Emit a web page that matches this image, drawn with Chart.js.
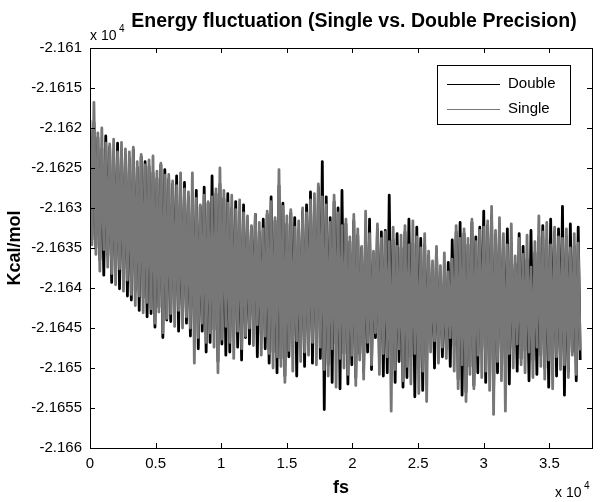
<!DOCTYPE html>
<html>
<head>
<meta charset="utf-8">
<script src="https://cdn.jsdelivr.net/npm/chart.js@4/dist/chart.umd.min.js"></script>
<style>
html,body{margin:0;padding:0;background:#fff;}
#wrap{width:600px;height:502px;position:relative;}
</style>
</head>
<body>
<div id="wrap"><canvas id="c" width="600" height="502"></canvas></div>
<script>
// ---- data (energies in kcal/mol, sampled every 150 fs) ----
const sampleStepFs = 150;
const seriesNames = ["Double", "Single"];
const doubleValues = [
-21620.2,-21633.9,-21619.3,-21634.9,-21621.2,-21636.5,-21622.6,-21638.4,-21621.0,-21636.0,
-21622.4,-21639.3,-21623.6,-21637.8,-21621.9,-21640.1,-21622.8,-21638.9,-21623.4,-21641.0,
-21623.8,-21641.5,-21622.7,-21640.4,-21624.9,-21642.8,-21623.6,-21641.2,-21624.2,-21643.6,
-21624.8,-21643.2,-21625.6,-21644.9,-21626.3,-21642.4,-21624.6,-21646.2,-21625.2,-21644.0,
-21626.4,-21644.2,-21627.0,-21642.6,-21626.0,-21645.4,-21628.0,-21643.8,-21626.8,-21644.4,
-21628.6,-21646.0,-21629.0,-21644.6,-21627.8,-21647.6,-21629.8,-21645.4,-21627.4,-21648.0,
-21629.4,-21646.8,-21626.0,-21645.2,-21628.2,-21649.2,-21627.0,-21647.0,-21628.8,-21648.4,
-21628.2,-21648.0,-21630.0,-21645.8,-21629.2,-21647.4,-21630.8,-21649.0,-21629.6,-21646.2,
-21631.6,-21647.0,-21632.4,-21644.2,-21630.8,-21648.6,-21633.0,-21645.8,-21631.4,-21647.6,
-21630.8,-21649.4,-21628.6,-21648.0,-21631.6,-21650.6,-21627.2,-21648.8,-21629.4,-21651.0,
-21632.0,-21648.6,-21630.6,-21646.0,-21631.2,-21651.0,-21632.8,-21647.4,-21630.4,-21649.8,
-21629.6,-21647.2,-21628.0,-21649.4,-21630.2,-21646.4,-21627.4,-21648.8,-21624.2,-21655.2,
-21628.6,-21649.6,-21631.2,-21651.8,-21629.2,-21647.0,-21630.0,-21652.6,-21627.8,-21648.2,
-21632.0,-21652.0,-21634.2,-21649.6,-21631.6,-21651.2,-21633.4,-21648.2,-21635.0,-21650.4,
-21634.0,-21648.0,-21631.4,-21650.2,-21635.8,-21646.2,-21632.6,-21649.0,-21633.0,-21651.0,
-21632.8,-21650.6,-21628.4,-21647.8,-21634.0,-21651.8,-21633.2,-21649.2,-21635.0,-21652.4,
-21633.0,-21651.2,-21631.4,-21648.6,-21634.4,-21653.6,-21632.4,-21650.0,-21633.8,-21652.8,
-21634.6,-21649.0,-21636.0,-21646.4,-21637.8,-21650.0,-21635.2,-21647.0,-21638.4,-21648.6,
-21639.2,-21647.6,-21636.8,-21649.8,-21634.0,-21647.2,-21633.0,-21651.4,-21631.8,-21653.4,
-21633.2,-21653.0,-21634.6,-21649.8,-21631.8,-21652.2,-21633.6,-21650.6,-21632.4,-21647.6,
-21630.4,-21651.8,-21632.2,-21649.0,-21631.0,-21653.2,-21633.4,-21650.6,-21632.0,-21648.4,
-21635.0,-21649.8,-21632.6,-21652.0,-21634.4,-21647.6,-21637.0,-21650.4,-21633.2,-21648.8,
-21634.8,-21647.8,-21636.4,-21651.6,-21632.8,-21649.0,-21635.6,-21650.8,-21633.6,-21648.4,
-21632.2,-21650.0,-21634.0,-21652.4,-21631.4,-21648.8,-21633.0,-21651.0,-21632.6,-21649.6,
-21629.8,-21653.4,-21633.6,-21650.4,-21632.0,-21648.0,-21634.8,-21651.6,-21632.4,-21649.0
];
const singleValues = [
-21619.0,-21634.6,-21616.8,-21635.8,-21620.6,-21637.9,-21620.0,-21635.2,-21621.9,-21637.4,
-21622.0,-21638.2,-21621.4,-21639.6,-21623.0,-21637.6,-21621.8,-21640.4,-21622.6,-21639.0,
-21623.0,-21640.8,-21622.4,-21642.2,-21624.2,-21641.0,-21623.3,-21643.1,-21624.6,-21641.8,
-21624.0,-21642.6,-21623.5,-21644.4,-21625.4,-21643.0,-21624.4,-21645.6,-21625.9,-21643.8,
-21625.8,-21643.2,-21626.6,-21644.8,-21627.2,-21642.8,-21625.6,-21645.0,-21627.6,-21643.6,
-21628.0,-21645.0,-21625.6,-21649.4,-21628.8,-21646.2,-21629.6,-21644.4,-21628.4,-21646.8,
-21629.2,-21645.6,-21628.6,-21647.4,-21627.6,-21650.6,-21625.0,-21646.4,-21627.8,-21644.8,
-21629.4,-21646.8,-21628.4,-21648.8,-21630.2,-21645.4,-21629.0,-21647.6,-21630.6,-21646.0,
-21631.0,-21645.0,-21632.2,-21647.2,-21630.8,-21644.6,-21631.8,-21648.4,-21632.6,-21646.0,
-21630.4,-21648.2,-21629.2,-21650.0,-21631.2,-21648.6,-21625.2,-21649.8,-21629.8,-21651.8,
-21631.0,-21647.8,-21630.2,-21650.4,-21632.4,-21646.6,-21631.6,-21649.2,-21630.0,-21648.0,
-21630.6,-21648.4,-21629.0,-21646.8,-21628.2,-21649.6,-21627.0,-21647.4,-21628.6,-21650.2,
-21629.6,-21651.0,-21631.8,-21647.6,-21628.4,-21652.4,-21630.6,-21648.8,-21632.2,-21650.0,
-21631.4,-21650.8,-21633.6,-21648.4,-21630.8,-21652.2,-21632.6,-21649.0,-21634.8,-21651.4,
-21630.4,-21646.8,-21633.2,-21649.6,-21635.4,-21645.6,-21632.0,-21650.8,-21633.8,-21648.2,
-21633.0,-21648.6,-21634.2,-21655.4,-21632.4,-21650.2,-21634.8,-21647.6,-21633.4,-21651.6,
-21632.2,-21649.8,-21634.6,-21652.0,-21631.6,-21648.2,-21633.6,-21653.2,-21635.0,-21650.4,
-21633.2,-21654.2,-21635.4,-21648.0,-21636.6,-21646.6,-21634.8,-21649.4,-21637.2,-21647.4,
-21635.6,-21648.8,-21638.0,-21646.2,-21636.4,-21650.4,-21632.2,-21652.6,-21633.8,-21649.6,
-21632.6,-21654.2,-21633.8,-21650.8,-21631.4,-21652.6,-21634.2,-21648.4,-21632.8,-21651.2,
-21632.4,-21650.4,-21631.6,-21652.8,-21629.8,-21655.8,-21632.8,-21649.2,-21631.2,-21651.6,
-21633.2,-21655.4,-21634.6,-21648.2,-21632.0,-21650.0,-21636.0,-21647.0,-21633.8,-21649.6,
-21635.8,-21650.6,-21633.4,-21648.0,-21637.4,-21651.2,-21634.2,-21647.4,-21631.0,-21649.8,
-21633.0,-21651.4,-21631.8,-21649.0,-21634.6,-21652.6,-21632.4,-21648.6,-21633.6,-21650.2,
-21633.8,-21649.6,-21632.6,-21651.2,-21635.0,-21648.4,-21633.2,-21650.8,-21634.4,-21647.8
];
const yTickValues = [-21660,-21655,-21650,-21645,-21640,-21635,-21630,-21625,-21620,-21615,-21610];
const xTickValues = [0,5000,10000,15000,20000,25000,30000,35000];
const chartTitle = "Energy fluctuation (Single vs. Double Precision)";
const xTitle = "fs";
const yTitle = "Kcal/mol";

// ---- build points ----
function toPoints(vals){ return vals.map((v,i)=>({x:i*sampleStepFs, y:v})); }
const seriesColors = {Double:"#000000", Single:"#777777"};

const FONT = "Arial, 'Liberation Sans', Helvetica, sans-serif";
function fmt(v){ return String(parseFloat((v/1e4).toFixed(5))); }

const decorPlugin = {
  id:'decor',
  afterDraw(chart){
    const ctx = chart.ctx, a = chart.chartArea;
    const xs = chart.scales.x, ys = chart.scales.y;
    ctx.save();
    ctx.strokeStyle = '#000'; ctx.lineWidth = 1;
    ctx.strokeRect(Math.round(a.left)+0.5, Math.round(a.top)+0.5, Math.round(a.right-a.left), Math.round(a.bottom-a.top));
    ctx.beginPath();
    xTickValues.forEach(v=>{
      const p = Math.round(xs.getPixelForValue(v))+0.5;
      ctx.moveTo(p, a.bottom); ctx.lineTo(p, a.bottom-5);
      ctx.moveTo(p, a.top); ctx.lineTo(p, a.top+5);
    });
    yTickValues.forEach(v=>{
      const p = Math.round(ys.getPixelForValue(v))+0.5;
      ctx.moveTo(a.left, p); ctx.lineTo(a.left+5, p);
      ctx.moveTo(a.right, p); ctx.lineTo(a.right-5, p);
    });
    ctx.stroke();
    ctx.fillStyle = '#000';
    ctx.textAlign = 'center'; ctx.textBaseline = 'alphabetic';
    ctx.font = 'bold 19.5px ' + FONT;
    ctx.fillText(chartTitle, 354, 27);
    ctx.font = 'bold 18px ' + FONT;
    ctx.fillText(xTitle, (a.left+a.right)/2, 493);
    ctx.save();
    ctx.translate(15, (a.top+a.bottom)/2);
    ctx.rotate(-Math.PI/2);
    ctx.textBaseline = 'middle';
    ctx.fillText(yTitle, 0, 0);
    ctx.restore();
    ctx.textAlign = 'left';
    ctx.font = '14px ' + FONT;
    ctx.fillText('x 10', a.left, 40);
    ctx.font = '10px ' + FONT;
    ctx.fillText('4', a.left+29, 32);
    ctx.font = '14px ' + FONT;
    ctx.fillText('x 10', 555, 497);
    ctx.font = '10px ' + FONT;
    ctx.fillText('4', 584, 489);
    const lx = 437.5, ly = 65.5, lw = 133, lh = 59;
    ctx.fillStyle = '#fff';
    ctx.fillRect(lx, ly, lw, lh);
    ctx.strokeStyle = '#000';
    ctx.strokeRect(lx, ly, lw, lh);
    chart.data.datasets.forEach((ds, i)=>{
      const yy = ly + 18 + i*25;
      ctx.strokeStyle = ds.borderColor; ctx.lineWidth = 1;
      ctx.beginPath(); ctx.moveTo(447, Math.round(yy)+0.5); ctx.lineTo(500, Math.round(yy)+0.5); ctx.stroke();
      ctx.fillStyle = '#000';
      ctx.font = '15px ' + FONT;
      ctx.textBaseline = 'middle';
      ctx.fillText(ds.label, 508, yy);
    });
    ctx.restore();
  }
};

new Chart(document.getElementById('c'), {
  type:'line',
  data:{
    datasets:[
      {label:seriesNames[0], data:toPoints(doubleValues), borderColor:seriesColors.Double, borderWidth:2.8, borderJoinStyle:'round', pointRadius:0, tension:0, order:1},
      {label:seriesNames[1], data:toPoints(singleValues), borderColor:seriesColors.Single, borderWidth:2.8, borderJoinStyle:'round', pointRadius:0, tension:0, order:0}
    ]
  },
  options:{
    responsive:false, animation:false, devicePixelRatio:1,
    layout:{padding:{top:48, right:8, left:0, bottom:0}},
    plugins:{legend:{display:false}, tooltip:{enabled:false}, title:{display:false}},
    scales:{
      x:{type:'linear', min:0, max:38250,
         afterFit(s){ s.height = 54; },
         afterBuildTicks(s){ s.ticks = xTickValues.map(v=>({value:v})); },
         grid:{display:false, drawTicks:false}, border:{display:false},
         ticks:{padding:7, color:'#000', font:{family:FONT, size:15}, maxRotation:0, callback:(v)=>fmt(v)}},
      y:{type:'linear', min:-21660, max:-21610,
         afterFit(s){ s.width = 90; },
         afterBuildTicks(s){ s.ticks = yTickValues.map(v=>({value:v})); },
         grid:{display:false, drawTicks:false}, border:{display:false},
         ticks:{padding:8, color:'#000', font:{family:FONT, size:15}, callback:(v)=>fmt(v)}}
    }
  },
  plugins:[decorPlugin]
});
</script>
</body>
</html>
